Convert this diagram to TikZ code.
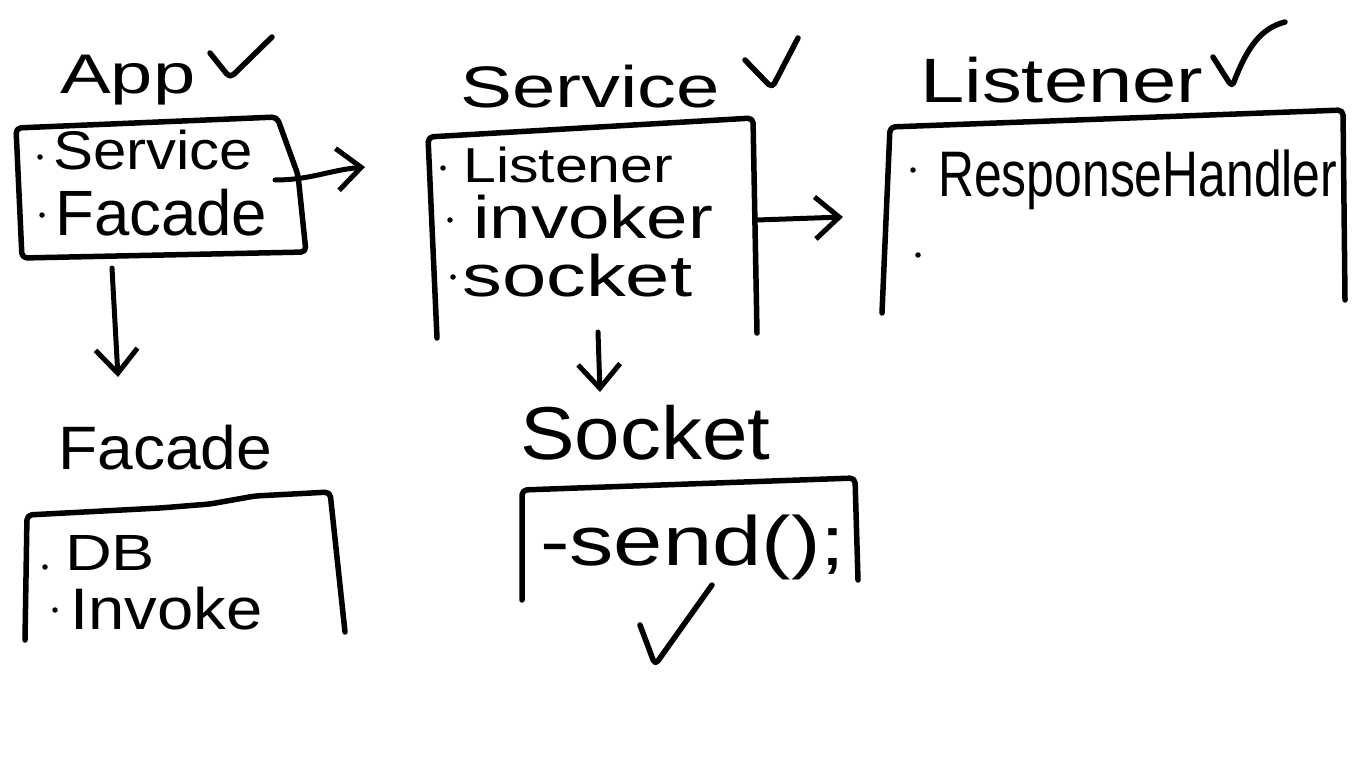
\documentclass[tikz,border=0pt]{standalone}
\usepackage{fontspec}
\setmainfont{Liberation Sans}
\usetikzlibrary{arrows.meta}
\newcommand{\hw}[3]{\resizebox*{#1pt}{#2pt}{#3}}
\begin{document}
\begin{tikzpicture}[x=1pt,y=-1pt,
  ink/.style={line width=5.5pt, line cap=round, line join=round, rounded corners=5pt},
  arr/.style={line width=5pt, line cap=round, line join=round, -{Straight Barb[length=24pt,width=42pt,line width=5pt]}},
  lbl/.style={inner sep=0pt, anchor=north west},
  bullet/.style={fill, circle, inner sep=0pt, minimum size=5.5pt}]
\useasboundingbox[fill=white] (0,0) rectangle (1366,768);

% ---------- App ----------
\node[lbl] (apptitle) at (60,55) {\hw{135}{50}{App}};
\draw[ink] (210,53) -- (230,78) -- (272,37);
\draw[ink] (22,258) -- (16,128) -- (277,117) -- (298,175) -- (306,252) -- cycle;
\node[bullet] (appd1) at (40,157) {};
\node[bullet] (appd2) at (42,215) {};
\node[lbl] (appsvc) at (53,130) {\hw{200}{40}{Service}};
\node[lbl] (appfac) at (55,189) {\hw{212}{47}{Facade}};
\coordinate (appR) at (275,180);
\coordinate (appB) at (112,268);

% ---------- Facade ----------
\node[lbl] (factitle) at (58,425) {\hw{214}{45}{Facade}};
\draw[ink] (25,640) -- (27,515) -- (160,508) -- (210,504) -- (255,496) -- (330,492) -- (345,632);
\node[bullet] (facd1) at (45,567) {};
\node[bullet] (facd2) at (55,610) {};
\node[lbl] (facdb) at (65,535) {\hw{90}{35}{DB}};
\node[lbl] (facinv) at (70,587) {\hw{192}{43}{Invoke}};
\coordinate (facT) at (118,377);

% ---------- Service ----------
\node[lbl] (svctitle) at (460,65) {\hw{260}{43}{Service}};
\draw[ink] (745,60) -- (772,88) -- (798,38);
\draw[ink] (437,338) -- (428,137) -- (753,118) -- (757,333);
\node[bullet] (svcd1) at (443,168) {};
\node[bullet] (svcd2) at (450,220) {};
\node[bullet] (svcd3) at (453,277) {};
\node[lbl] (svclis) at (463,147) {\hw{210}{36}{Listener}};
\node[lbl] (svcinv) at (473,195) {\hw{240}{44}{invoker}};
\node[lbl] (svcsoc) at (462,254) {\hw{230}{43}{socket}};
\coordinate (svcL) at (365,167);
\coordinate (svcR) at (757,220);
\coordinate (svcB) at (598,332);

% ---------- Socket ----------
\node[lbl] (soctitle) at (520,405) {\hw{250}{55}{Socket}};
\draw[ink] (522,600) -- (522,490) -- (855,478) -- (858,580);
\node[lbl] (socsend) at (540,515) {\hw{305}{65}{-send();}};
\draw[ink] (640,625) -- (655,665) -- (712,585);
\coordinate (socT) at (600,392);

% ---------- Listener ----------
\node[lbl] (listitle) at (920,57) {\hw{283}{46}{Listener}};
\draw[ink] (1213,57) -- (1232,87) .. controls (1248,45) and (1262,28) .. (1285,22);
\draw[ink] (882,313) -- (890,127) -- (1343,110) -- (1345,300);
\node[bullet] (lisd1) at (913,170) {};
\node[bullet] (lisd2) at (918,255) {};
\node[lbl] (lisrh) at (938,150) {\hw{399}{60}{ResponseHandler}};
\coordinate (lisL) at (843,217);

% ---------- connectors ----------
\draw[arr] (appR) to[out=0,in=185] (svcL);
\draw[arr] (appB) -- (facT);
\draw[arr] (svcR) -- (lisL);
\draw[arr] (svcB) -- (socT);
\end{tikzpicture}
\end{document}
